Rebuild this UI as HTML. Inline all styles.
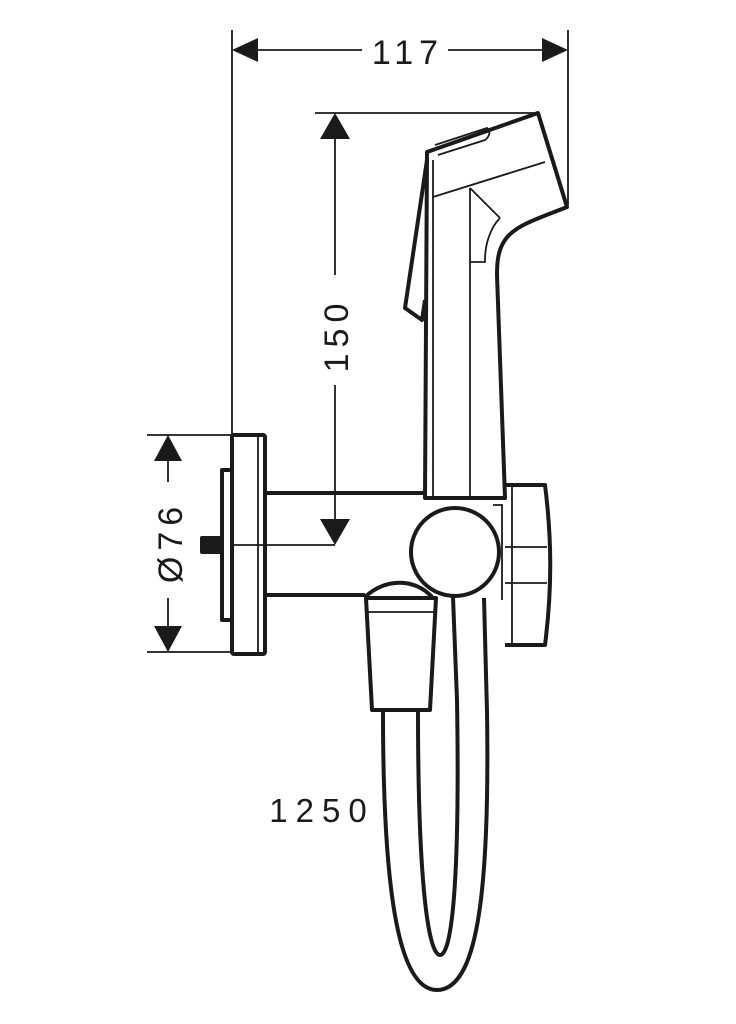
<!DOCTYPE html>
<html><head><meta charset="utf-8"><style>html,body{margin:0;padding:0;background:#fff}svg{display:block}</style></head>
<body>
<svg width="736" height="1024" viewBox="0 0 736 1024" xmlns="http://www.w3.org/2000/svg">
<g fill="none" stroke="#1a1a1a" stroke-width="1.8">
<line x1="232" y1="30" x2="232" y2="435"/>
<line x1="568" y1="30" x2="568" y2="205"/>
<line x1="255" y1="50" x2="362" y2="50"/>
<line x1="448" y1="50" x2="545" y2="50"/>
<line x1="315" y1="113" x2="535" y2="113"/>
<line x1="335" y1="135" x2="335" y2="275"/>
<line x1="335" y1="385" x2="335" y2="525"/>
<line x1="265" y1="545" x2="335" y2="545"/>
<line x1="147" y1="435" x2="232" y2="435"/>
<line x1="147" y1="652" x2="232" y2="652"/>
<line x1="168" y1="455" x2="168" y2="482"/>
<line x1="168" y1="598" x2="168" y2="630"/>
</g>
<g fill="#1a1a1a">
<polygon points="232,50 258,38 258,62"/>
<polygon points="568,50 542,38 542,62"/>
<polygon points="335,113 320,139 350,139"/>
<polygon points="335,545 320,519 350,519"/>
<polygon points="168,435 154,461 182,461"/>
<polygon points="168,652 154,626 182,626"/>
</g>
<g font-family="Liberation Sans, sans-serif" fill="#1a1a1a" font-size="34" letter-spacing="6">
<text x="408" y="64" text-anchor="middle">117</text>
<text transform="translate(348,335) rotate(-90)" text-anchor="middle">150</text>
<text transform="translate(182,542) rotate(-90)" text-anchor="middle">Ø76</text>
<text x="322" y="822" text-anchor="middle" font-size="33" letter-spacing="8">1250</text>
</g>
<g fill="none" stroke="#1a1a1a" stroke-width="4" stroke-linejoin="round">
<rect x="232" y="435" width="33" height="219" rx="2"/>
<rect x="222" y="470" width="10" height="150"/>
<rect x="202" y="538" width="20" height="14" fill="#1a1a1a"/>
<line x1="265" y1="493" x2="425" y2="493"/>
<line x1="265" y1="595" x2="365" y2="595"/>
<path d="M425 498 L427 152 L538 113 L567 207 C540 218 515 225 505 240 C498 250 497 262 497 275 L505 498 Z"/>
<path d="M427 160 L405 308 L422 320 L425 300" />
<line x1="425" y1="498" x2="505" y2="498"/>
<path d="M505 485 L545 485 C552 540 552 590 545 645 L505 645"/>
<circle cx="455" cy="552" r="44"/>
<path d="M365 597 C385 578 415 578 432 597"/>
<path d="M366 598 L372 710 L430 710 L436 598 Z"/>
<path d="M383 712 C383 900 400 990 437 990 C476 990 490 900 487 712 L484 598"/>
<path d="M418 712 C418 880 428 955 440 955 C452 955 460 880 457 700 L453 597"/>
</g>
<g fill="none" stroke="#1a1a1a" stroke-width="1.8">
<line x1="258" y1="437" x2="258" y2="652"/>
<line x1="234" y1="545" x2="263" y2="545"/>
<line x1="433" y1="160" x2="433" y2="496"/>
<line x1="470" y1="188" x2="470" y2="496"/>
<line x1="433" y1="197" x2="545" y2="162"/>
<line x1="470" y1="188" x2="500" y2="218"/>
<path d="M500 218 C490 228 485 245 485 260 L485 262 L470 262"/>
<path d="M435 145 L487 128 C492 132 488 138 485 140 L438 155"/>
<line x1="512" y1="487" x2="512" y2="643"/>
<line x1="505" y1="547" x2="547" y2="547"/>
<line x1="505" y1="583" x2="547" y2="583"/>
<line x1="368" y1="612" x2="434" y2="612"/>
<path d="M493 505 L502 505 L502 600"/>
</g>
</svg>
</body></html>
